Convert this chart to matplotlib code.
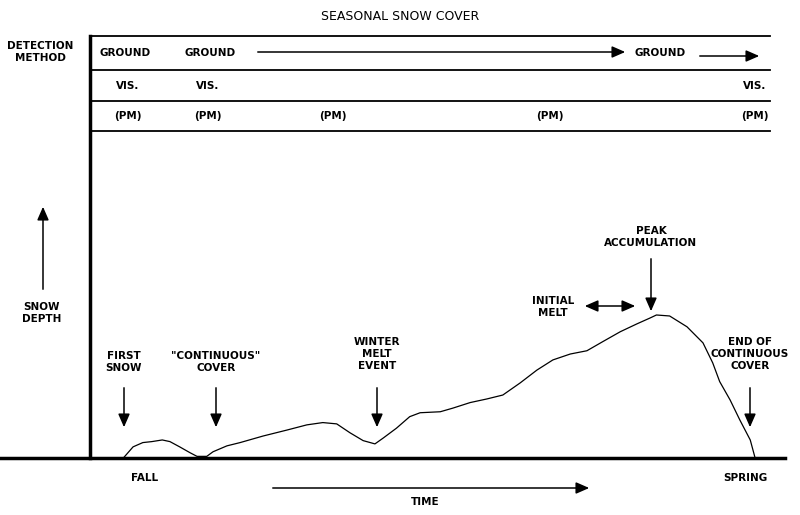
import matplotlib.pyplot as plt

# schematic of seasonal snow cover; time and depth in arbitrary units (0-100)
curve_time = [4.8, 6.2, 7.6, 8.9, 10.4, 11.5, 12.9, 14.4, 15.4, 16.8, 17.7, 19.7,
              21.6, 24.9, 28.3, 31.2, 33.5, 35.5, 37.4, 39.3, 41.0, 42.2, 44.1,
              46.0, 47.5, 50.4, 52.2, 54.7, 57.1, 59.4, 61.9, 64.3, 66.6, 69.1,
              71.5, 73.8, 76.3, 78.7, 80.6, 81.5, 83.4, 85.9, 88.2, 89.6, 90.6,
              92.1, 93.5, 95.0, 95.7]
curve_depth = [0.0, 3.4, 4.7, 5.0, 5.5, 5.0, 3.4, 1.6, 0.5, 0.5, 1.9, 3.7,
               4.7, 6.7, 8.5, 10.1, 10.8, 10.4, 7.7, 5.3, 4.3, 6.1, 9.1,
               12.6, 13.8, 14.1, 15.2, 16.9, 18.0, 19.2, 22.9, 26.8, 29.9, 31.7,
               32.7, 35.5, 38.5, 40.9, 42.7, 43.6, 43.3, 40.0, 35.1, 29.0, 23.3,
               17.7, 11.6, 5.5, 0.0]

# table rows: (label, x centre)
row_ground = [("GROUND", 125), ("GROUND", 210), ("GROUND", 660)]
row_vis = [("VIS.", 128), ("VIS.", 208), ("VIS.", 755)]
row_pm = [("(PM)", 128), ("(PM)", 208), ("(PM)", 333), ("(PM)", 550), ("(PM)", 755)]

# event labels: text, x, text y, arrow top, arrow bottom
events = [("FIRST\nSNOW", 124, 362, 385, 430),
          ('"CONTINUOUS"\nCOVER', 216, 362, 385, 430),
          ("WINTER\nMELT\nEVENT", 377, 354, 385, 430),
          ("PEAK\nACCUMULATION", 651, 237, 256, 314),
          ("END OF\nCONTINUOUS\nCOVER", 750, 354, 385, 430)]

W, H = 800, 515
fig = plt.figure(figsize=(8, 5.15), dpi=100)
ax = fig.add_axes([0, 0, 1, 1])
ax.set_xlim(0, W)
ax.set_ylim(H, 0)
ax.axis("off")

fs = 7.5
tkw = dict(fontsize=fs, fontweight="bold", ha="center", va="center",
           family="DejaVu Sans", linespacing=1.25)

ax.text(400, 16, "SEASONAL SNOW COVER", fontsize=9, ha="center", va="center")
ax.text(40, 52, "DETECTION\nMETHOD", **tkw)

# table frame
for y in [36, 70, 101, 131]:
    ax.plot([90, 770], [y, y], color="black", lw=1.3)
ax.plot([90, 90], [36, 458], color="black", lw=2.5)
ax.plot([0, 785], [458, 458], color="black", lw=2.5)

for txt, x in row_ground:
    ax.text(x, 53, txt, **tkw)
for txt, x in row_vis:
    ax.text(x, 86, txt, **tkw)
for txt, x in row_pm:
    ax.text(x, 116, txt, **tkw)

akw = dict(arrowstyle="-|>,head_length=0.8,head_width=0.35", color="black", lw=1.1)
ax.annotate("", xy=(628, 52), xytext=(255, 52), arrowprops=akw)
ax.annotate("", xy=(762, 56), xytext=(697, 56), arrowprops=akw)

# y label
ax.annotate("", xy=(43, 204), xytext=(43, 292), arrowprops=akw)
ax.text(42, 313, "SNOW\nDEPTH", **tkw)

# x labels
ax.text(145, 478, "FALL", **tkw)
ax.text(745, 478, "SPRING", **tkw)
ax.text(425, 502, "TIME", **tkw)
ax.annotate("", xy=(592, 488), xytext=(270, 488), arrowprops=akw)

for txt, x, ty, a0, a1 in events:
    ax.text(x, ty, txt, **tkw)
    ax.annotate("", xy=(x, a1), xytext=(x, a0), arrowprops=akw)

ax.text(553, 307, "INITIAL\nMELT", **tkw)
ax.annotate("", xy=(638, 306), xytext=(582, 306),
            arrowprops=dict(arrowstyle="<|-|>,head_length=0.8,head_width=0.35",
                            color="black", lw=1.1))

# curve axes: x 90..785 px, y 458..130 px
pax = fig.add_axes([90 / W, (H - 458) / H, 695 / W, 328 / H])
pax.set_xlim(0, 100)
pax.set_ylim(0, 100)
pax.axis("off")
pax.patch.set_alpha(0)
pax.plot(curve_time, curve_depth, color="black", lw=0.9)

fig.savefig("out.png", dpi=100)
